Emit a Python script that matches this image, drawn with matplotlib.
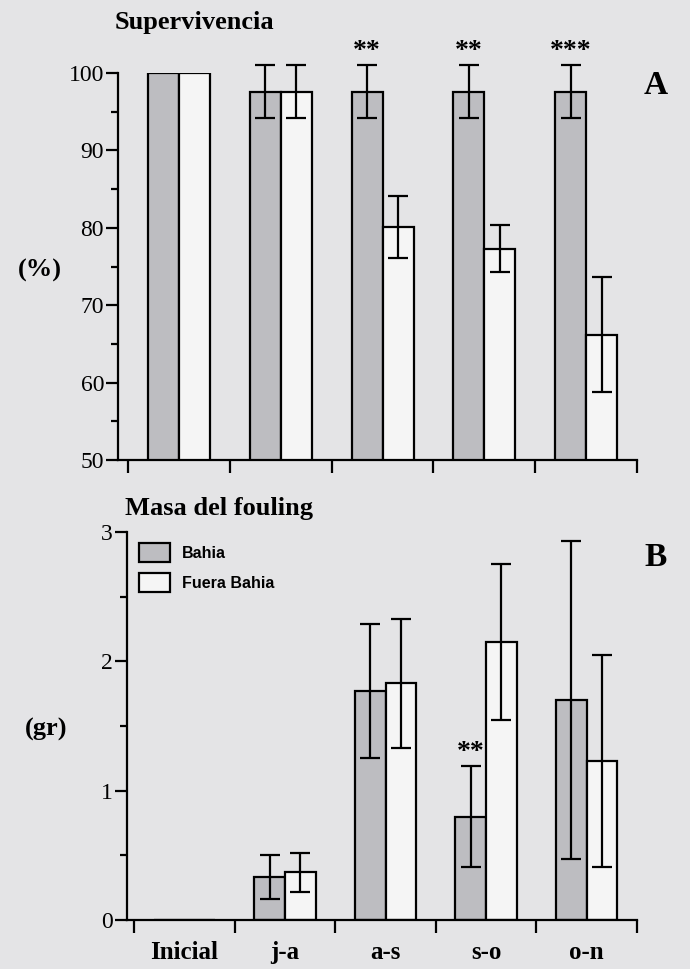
import matplotlib
matplotlib.use("Agg")
import matplotlib.pyplot as plt
import numpy as np
from matplotlib.ticker import FixedLocator, MultipleLocator, NullFormatter

# ---------------- data ----------------
categories = ["Inicial", "j-a", "a-s", "s-o", "o-n"]
series_names = ["Bahia", "Fuera Bahia"]

surv_bahia = [100.0, 97.6, 97.6, 97.6, 97.6]
surv_bahia_err = [0.0, 3.4, 3.4, 3.4, 3.4]
surv_fuera = [100.0, 97.6, 80.1, 77.3, 66.2]
surv_fuera_err = [0.0, 3.4, 4.0, 3.0, 7.4]
surv_sig = ["", "", "**", "**", "***"]

mass_bahia = [0.0, 0.33, 1.77, 0.80, 1.70]
mass_bahia_err = [0.0, 0.17, 0.52, 0.39, 1.23]
mass_fuera = [0.0, 0.37, 1.83, 2.15, 1.23]
mass_fuera_err = [0.0, 0.15, 0.50, 0.60, 0.82]
mass_sig = ["", "", "", "**", ""]

# ---------------- style ----------------
BG = "#e4e4e6"
GRAY = "#bdbdc1"
WHITE = "#f5f5f5"
SERIF = ["Liberation Serif", "DejaVu Serif"]
SANS = ["Liberation Sans", "DejaVu Sans"]
LW = 1.6

fig = plt.figure(figsize=(6.9, 9.69), dpi=100, facecolor=BG)

ax1 = fig.add_axes([118/690, 1-460/969, (637-118)/690, (460-73)/969])
ax2 = fig.add_axes([127/690, 1-920/969, (637-127)/690, (920-532)/969])

x = np.arange(len(categories))
w = 0.305


def draw(ax, b, be, f, fe, sig, ylim, major, minor, xleft):
    ax.set_facecolor(BG)
    bars_b = ax.bar(x - w/2, b, w, color=GRAY, edgecolor="black", linewidth=LW,
                    label=series_names[0], zorder=2)
    bars_f = ax.bar(x + w/2, f, w, color=WHITE, edgecolor="black", linewidth=LW,
                    label=series_names[1], zorder=2)
    for xs, vals, errs in ((x - w/2, b, be), (x + w/2, f, fe)):
        for xi, v, e in zip(xs, vals, errs):
            if e > 0:
                ax.errorbar(xi, v, yerr=e, fmt="none", ecolor="black",
                            elinewidth=LW, capsize=7.5, capthick=LW,
                            zorder=3, clip_on=False)
    for xi, v, e, s in zip(x - w/2, b, be, sig):
        if s:
            ax.annotate(s, (xi, v + e), xytext=(0, 10), textcoords="offset points",
                        ha="center", va="center", fontsize=20, fontweight="bold",
                        family=SERIF, annotation_clip=False)
    ax.set_ylim(*ylim)
    ax.set_xlim(xleft, len(categories) - 0.5)
    for sp in ("top", "right"):
        ax.spines[sp].set_visible(False)
    for sp in ("left", "bottom"):
        ax.spines[sp].set_linewidth(LW)
    ax.yaxis.set_major_locator(MultipleLocator(major))
    ax.yaxis.set_minor_locator(MultipleLocator(minor))
    ax.tick_params(axis="y", which="major", length=9, width=LW, pad=1,
                   labelsize=17)
    ax.tick_params(axis="y", which="minor", length=5, width=LW)
    ax.xaxis.set_major_locator(FixedLocator(np.arange(len(categories) + 1) - 0.5))
    ax.xaxis.set_major_formatter(NullFormatter())
    ax.tick_params(axis="x", which="major", length=9, width=LW)
    for lab in ax.get_yticklabels():
        lab.set_family(SERIF)
    return bars_b, bars_f


draw(ax1, surv_bahia, surv_bahia_err, surv_fuera, surv_fuera_err, surv_sig,
     (50, 100), 10, 5, -0.6)
draw(ax2, mass_bahia, mass_bahia_err, mass_fuera, mass_fuera_err, mass_sig,
     (0, 3), 1, 0.5, -0.57)

# category labels on bottom panel
ax2.xaxis.set_minor_locator(FixedLocator(x))
ax2.set_xticklabels(categories, minor=True)
ax2.tick_params(axis="x", which="minor", length=0, pad=15, labelsize=18)
for lab in ax2.get_xticklabels(minor=True):
    lab.set_family(SERIF)
    lab.set_fontweight("bold")

# y labels
ax1.set_ylabel("(%)", rotation=0, fontsize=19, fontweight="bold", family=SERIF,
               va="center", ha="center")
ax1.yaxis.set_label_coords(-0.150, 0.49)
ax2.set_ylabel("(gr)", rotation=0, fontsize=19, fontweight="bold", family=SERIF,
               va="center", ha="center")
ax2.yaxis.set_label_coords(-0.159, 0.49)

# legend
leg = ax2.legend(loc="upper left", bbox_to_anchor=(0.024, 0.972), frameon=False,
                 borderaxespad=0, borderpad=0, handlelength=1.9, handleheight=1.5,
                 labelspacing=0.65, handletextpad=0.75,
                 prop={"family": SANS, "weight": "bold", "size": 11.5})

# titles and panel letters
fig.text(115/690, 1-22/969, "Supervivencia", fontsize=19, fontweight="bold",
         family=SERIF, ha="left", va="center")
fig.text(125/690, 1-508/969, "Masa del fouling", fontsize=19, fontweight="bold",
         family=SERIF, ha="left", va="center")
fig.text(656/690, 1-85/969, "A", fontsize=24, fontweight="bold", family=SERIF,
         ha="center", va="center")
fig.text(656/690, 1-558/969, "B", fontsize=24, fontweight="bold", family=SERIF,
         ha="center", va="center")

fig.savefig("out.png", dpi=100, facecolor=BG)
